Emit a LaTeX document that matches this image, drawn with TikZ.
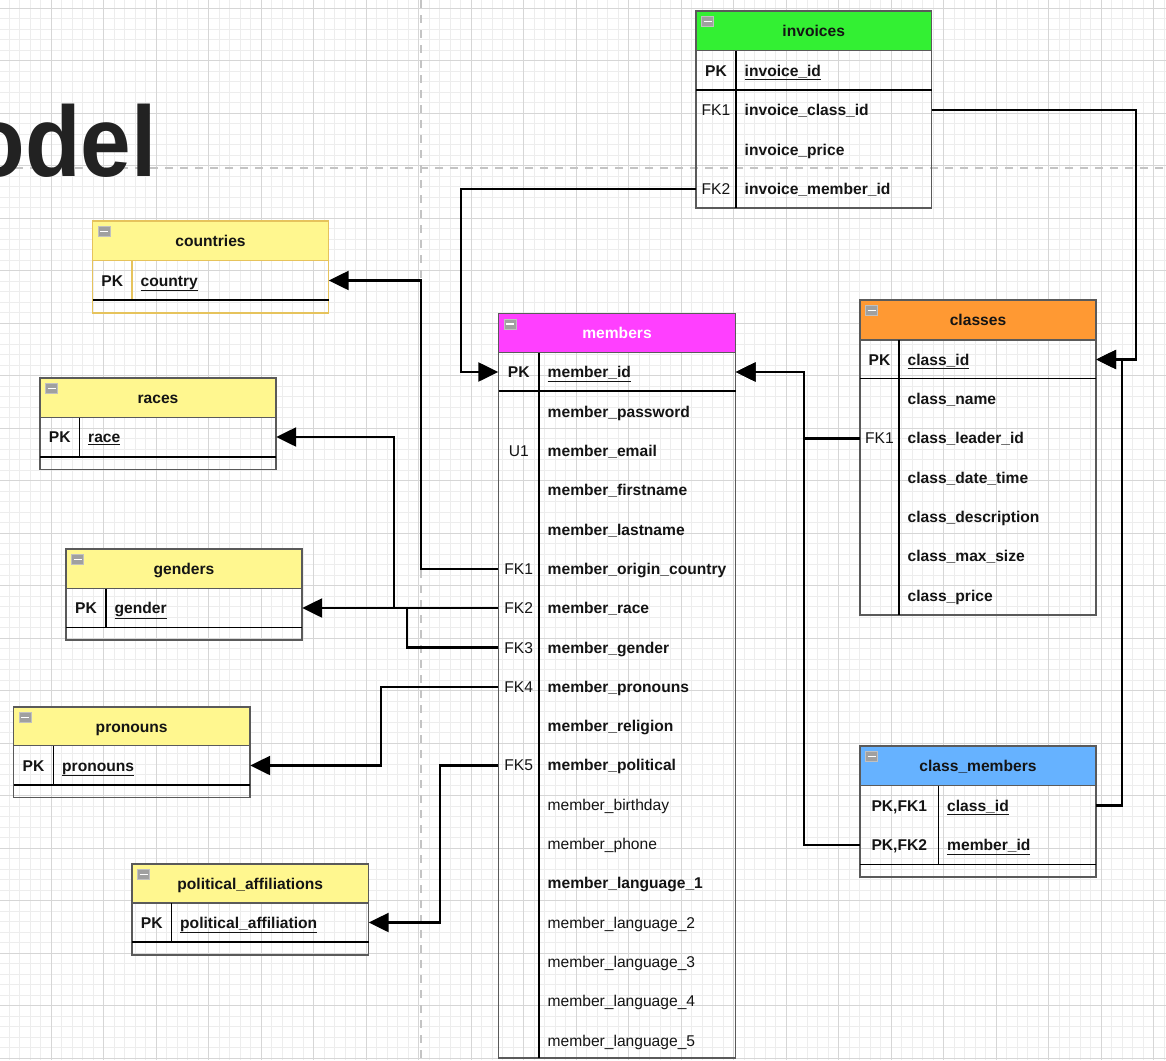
\documentclass[tikz,border=0pt]{standalone}
\usepackage{fontspec}
\setmainfont{Liberation Sans}
\usepackage{graphicx}
\usetikzlibrary{arrows.meta}
\definecolor{hgreen}{HTML}{33F033}
\definecolor{hmag}{HTML}{FF3FFF}
\definecolor{horange}{HTML}{FF9933}
\definecolor{hblue}{HTML}{66B2FF}
\definecolor{hyellow}{HTML}{FFF78F}
\definecolor{gold}{HTML}{E6C35C}
\definecolor{tgray}{HTML}{5A5A5A}
\definecolor{gridlo}{HTML}{EDEDED}
\definecolor{gridhi}{HTML}{D6D6D6}
\definecolor{dashgray}{HTML}{C4C4C4}
\definecolor{iconfill}{HTML}{A0A0A0}
\definecolor{icondraw}{HTML}{C0C0C0}
\definecolor{txt}{HTML}{141414}
\definecolor{titlecol}{HTML}{222222}
\newcommand\erfont{\fontsize{15.6}{18.7}\selectfont}
\tikzset{
  gridminor/.style={draw=gridlo, line width=1pt},
  gridmajor/.style={draw=gridhi, line width=1pt},
  pagebreak/.style={draw=dashgray, line width=1.5pt, dash pattern=on 8pt off 7pt},
  tborder/.style={draw=tgray, line width=1.2pt},
  divline/.style={draw=black, line width=1.2pt},
  sepline/.style={draw=black, line width=1.4pt},
  iconst/.style={fill=iconfill, draw=icondraw, line width=0.8pt},
  iconbar/.style={draw=white, line width=1.3pt},
  rowbox/.style={rectangle, inner sep=0pt, minimum height=39pt},
  keytxt/.style={anchor=base, inner sep=0pt, font=\erfont, text=txt},
  fldtxt/.style={anchor=base west, inner sep=0pt, font=\erfont, text=txt},
  hdrtxt/.style={anchor=base, inner sep=0pt, font=\erfont\bfseries, text=txt},
  conn/.style={draw=black, line width=2.4pt, -{Triangle[length=20pt, width=19pt]}},
}
% #1 fill, #2 L, #3 T, #4 R, #5 header bottom, #6 key-row line, #7 bottom, #8 divider x, #9 divider bottom
\newcommand\ertable[9]{%
  \fill[#1] (#2,#3) rectangle (#4,#5);
  \draw[tborder] (#2,#3) rectangle (#4,#7);
  \draw[tborder] (#2,#5) -- (#4,#5);
  \draw[divline] (#8,#5) -- (#8,#9);
  \draw[sepline] (#2,#6) -- (#4,#6);
  \draw[iconst] ({#2+5.5},{#3+5.5}) rectangle ({#2+17.5},{#3+15.5});
  \draw[iconbar] ({#2+7.5},{#3+10.5}) -- ({#2+15.5},{#3+10.5});
}
% #1 name, #2 L, #3 R, #4 divider x, #5 y, #6 key, #7 field
\newcommand\errow[7]{%
  \node[rowbox, minimum width={#3-#2}] (#1) at ({(#2+#3)/2},#5) {};
  \node[keytxt] (#1-key) at ({(#2+#4)/2},{#5+5.5}) {#6};
  \node[fldtxt] (#1-fld) at ({#4+8.5},{#5+5.5}) {#7};
}
\begin{document}
\begin{tikzpicture}[x=1pt,y=-1pt]
\useasboundingbox (0,0) rectangle (1166,1060);
\fill[white] (0,0) rectangle (1166,1060);
% grid
\foreach \i in {0,...,111} \draw[gridminor] ({9+10.5*\i},0) -- ({9+10.5*\i},1060);
\foreach \i in {0,...,101} \draw[gridminor] (0,{-2.2+10.5*\i}) -- (1166,{-2.2+10.5*\i});
\foreach \i in {0,...,22} \draw[gridmajor] ({-1.5+52.5*\i},0) -- ({-1.5+52.5*\i},1060);
\foreach \i in {0,...,20} \draw[gridmajor] (0,{8.3+52.5*\i}) -- (1166,{8.3+52.5*\i});
% page breaks
\draw[pagebreak] (0,168) -- (1166,168);
\draw[pagebreak] (421,0) -- (421,1060);
% title
\node[anchor=base east, inner sep=0pt, text=titlecol] (title) at (157,176)
  {\fontsize{100}{110}\selectfont\bfseries\scalebox{0.91}[1]{odel}};

% ---------- invoices
\ertable{hgreen}{696}{11}{931.5}{50.5}{90}{208}{736}{208}
\node[hdrtxt] (invoices) at (813.7,36.5) {invoices};
\errow{inv-id}{696}{931.5}{736}{70.5}{\bfseries PK}{\bfseries\underline{invoice\_id}}
\errow{inv-class}{696}{931.5}{736}{110}{FK1}{\bfseries invoice\_class\_id}
\errow{inv-price}{696}{931.5}{736}{149.5}{}{\bfseries invoice\_price}
\errow{inv-member}{696}{931.5}{736}{189}{FK2}{\bfseries invoice\_member\_id}

% ---------- members
\ertable{hmag}{498.5}{313.5}{735.5}{352.5}{391}{1058}{539}{1058}
\node[hdrtxt, text=white] (members) at (617,338.5) {members};
\errow{mem-id}{498.5}{735.5}{539}{372}{\bfseries PK}{\bfseries\underline{member\_id}}
\errow{mem-password}{498.5}{735.5}{539}{411.7}{}{\bfseries member\_password}
\errow{mem-email}{498.5}{735.5}{539}{451.0}{U1}{\bfseries member\_email}
\errow{mem-first}{498.5}{735.5}{539}{490.3}{}{\bfseries member\_firstname}
\errow{mem-last}{498.5}{735.5}{539}{529.6}{}{\bfseries member\_lastname}
\errow{mem-country}{498.5}{735.5}{539}{568.9}{FK1}{\bfseries member\_origin\_country}
\errow{mem-race}{498.5}{735.5}{539}{608.2}{FK2}{\bfseries member\_race}
\errow{mem-gender}{498.5}{735.5}{539}{647.5}{FK3}{\bfseries member\_gender}
\errow{mem-pronouns}{498.5}{735.5}{539}{686.8}{FK4}{\bfseries member\_pronouns}
\errow{mem-religion}{498.5}{735.5}{539}{726.1}{}{\bfseries member\_religion}
\errow{mem-political}{498.5}{735.5}{539}{765.4}{FK5}{\bfseries member\_political}
\errow{mem-birthday}{498.5}{735.5}{539}{804.7}{}{member\_birthday}
\errow{mem-phone}{498.5}{735.5}{539}{844.0}{}{member\_phone}
\errow{mem-lang1}{498.5}{735.5}{539}{883.3}{}{\bfseries member\_language\_1}
\errow{mem-lang2}{498.5}{735.5}{539}{922.6}{}{member\_language\_2}
\errow{mem-lang3}{498.5}{735.5}{539}{961.9}{}{member\_language\_3}
\errow{mem-lang4}{498.5}{735.5}{539}{1001.2}{}{member\_language\_4}
\errow{mem-lang5}{498.5}{735.5}{539}{1040.5}{}{member\_language\_5}

% ---------- classes
\ertable{horange}{860}{300}{1096}{340}{378.5}{615}{899}{615}
\node[hdrtxt] (classes) at (978,325.5) {classes};
\errow{cls-id}{860}{1096}{899}{359.5}{\bfseries PK}{\bfseries\underline{class\_id}}
\errow{cls-name}{860}{1096}{899}{399}{}{\bfseries class\_name}
\errow{cls-leader}{860}{1096}{899}{438.3}{FK1}{\bfseries class\_leader\_id}
\errow{cls-date}{860}{1096}{899}{477.6}{}{\bfseries class\_date\_time}
\errow{cls-desc}{860}{1096}{899}{516.9}{}{\bfseries class\_description}
\errow{cls-max}{860}{1096}{899}{556.2}{}{\bfseries class\_max\_size}
\errow{cls-price}{860}{1096}{899}{595.5}{}{\bfseries class\_price}

% ---------- class_members
\ertable{hblue}{860}{746}{1096}{785.5}{864.5}{877}{938.5}{864.5}
\node[hdrtxt] (class-members) at (978,771.5) {class\_members};
\errow{cm-class}{860}{1096}{938.5}{805.5}{\bfseries PK,FK1}{\bfseries\underline{class\_id}}
\errow{cm-member}{860}{1096}{938.5}{845}{\bfseries PK,FK2}{\bfseries\underline{member\_id}}

% ---------- countries
\begin{scope}[tborder/.style={draw=gold, line width=1.2pt}, divline/.style={draw=gold, line width=1.2pt}]
\ertable{hyellow}{92.5}{221}{328.5}{260.5}{300}{313}{132}{300}
\end{scope}
\node[hdrtxt] (countries) at (210.5,246.5) {countries};
\errow{cty-country}{92.5}{328.5}{132}{280.5}{\bfseries PK}{\bfseries\underline{country}}

% ---------- races
\ertable{hyellow}{40}{378}{276}{417.5}{457}{469.5}{79.5}{457}
\node[hdrtxt] (races) at (158,403.5) {races};
\errow{rac-race}{40}{276}{79.5}{437}{\bfseries PK}{\bfseries\underline{race}}

% ---------- genders
\ertable{hyellow}{66}{549}{302}{588.5}{627.5}{640}{106}{627.5}
\node[hdrtxt] (genders) at (184,574.5) {genders};
\errow{gen-gender}{66}{302}{106}{608}{\bfseries PK}{\bfseries\underline{gender}}

% ---------- pronouns
\ertable{hyellow}{13.5}{707}{250}{745.5}{785}{797.5}{53.5}{785}
\node[hdrtxt] (pronouns) at (131.7,732) {pronouns};
\errow{pro-pronouns}{13.5}{250}{53.5}{765.5}{\bfseries PK}{\bfseries\underline{pronouns}}

% ---------- political_affiliations
\ertable{hyellow}{132}{864}{368.5}{903}{942}{955}{171.5}{942}
\node[hdrtxt] (political) at (250.2,889.5) {political\_affiliations};
\errow{pol-aff}{132}{368.5}{171.5}{922.5}{\bfseries PK}{\bfseries\underline{political\_affiliation}}

% ---------- connectors
\draw[conn] (inv-member.west) -- ++(-235,0) |- (mem-id.west);
\draw[conn] (inv-class.east) -- ++(204,0) |- (cls-id.east);
\draw[conn] (cm-class.east) -- ++(26,0) |- (cls-id.east);
\draw[conn] (cls-leader.west) -- ++(-56,0) |- (mem-id.east);
\draw[conn] (cm-member.west) -- ++(-56,0) |- (mem-id.east);
\draw[conn] (mem-country.west) -- ++(-77.5,0) |- (cty-country.east);
\draw[conn] (mem-race.west) -- ++(-104.5,0) |- (rac-race.east);
\draw[conn] (mem-gender.west) -- ++(-91.5,0) |- (gen-gender.east);
\draw[conn] (mem-pronouns.west) -- ++(-117.5,0) |- (pro-pronouns.east);
\draw[conn] (mem-political.west) -- ++(-58.5,0) |- (pol-aff.east);
\end{tikzpicture}
\end{document}
